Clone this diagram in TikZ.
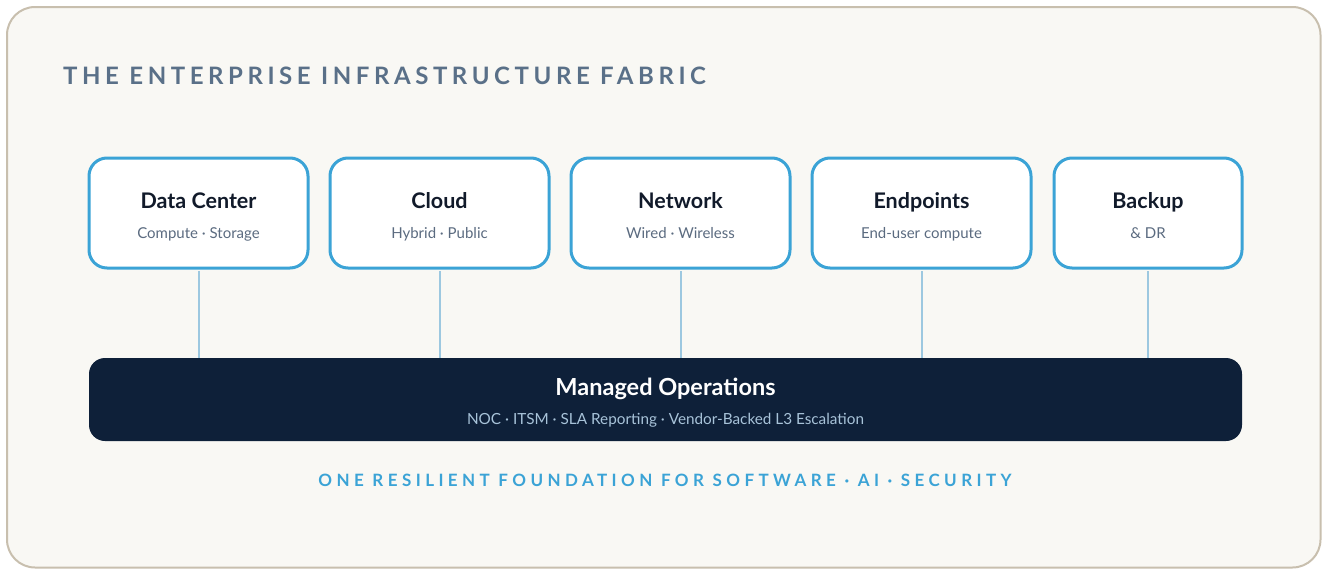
\documentclass[tikz,border=0pt]{standalone}
\usepackage{fontspec}
\setmainfont{Lato}
\newfontfamily\boldf{Lato Bold}
\newfontfamily\titlef[LetterSpace=19]{Lato Bold}
\newfontfamily\tagf[LetterSpace=26]{Lato Bold}
\definecolor{bgc}{HTML}{F9F8F4}
\definecolor{borderc}{HTML}{C8BFAE}
\definecolor{bluec}{HTML}{3BA3D6}
\definecolor{connc}{HTML}{9DC8E0}
\definecolor{navy}{HTML}{0E2039}
\definecolor{titlec}{HTML}{5A7088}
\definecolor{subc}{HTML}{5B6B80}
\definecolor{barsub}{HTML}{A8C3D9}
\definecolor{headc}{HTML}{111A2A}
\begin{document}
\begin{tikzpicture}[x=1pt,y=-1pt,
  layerbox/.style={draw=bluec, line width=3pt, fill=white, rounded corners=18pt, minimum height=110pt, inner sep=0pt},
  boxtitle/.style={font=\boldf\fontsize{21.5}{25}\selectfont, text=headc, inner sep=0pt, anchor=base},
  boxsub/.style={font=\fontsize{15}{18}\selectfont, text=subc, inner sep=0pt, anchor=base},
  conn/.style={draw=connc, line width=2pt},
]
\useasboundingbox (0,0) rectangle (1323,570);
\draw[fill=bgc, draw=borderc, line width=2pt, rounded corners=28pt] (7,7) rectangle (1320.5,567.5);

\node[font=\titlef\fontsize{24}{28}\selectfont, text=titlec, anchor=base west, inner sep=0pt] (title) at (63,84) {THE ENTERPRISE INFRASTRUCTURE FABRIC};

\node[layerbox, minimum width=219pt] (dc) at (198.5,213) {};
\node[layerbox, minimum width=219pt] (cloud) at (439.5,213) {};
\node[layerbox, minimum width=219pt] (net) at (680.5,213) {};
\node[layerbox, minimum width=219pt] (end) at (921.5,213) {};
\node[layerbox, minimum width=188pt] (bak) at (1148,213) {};

\node[boxtitle] (dct) at (198.5,208) {Data Center};
\node[boxsub] (dcs) at (198.5,238) {Compute · Storage};
\node[boxtitle] (clt) at (439.5,208) {Cloud};
\node[boxsub] (cls) at (439.5,238) {Hybrid · Public};
\node[boxtitle] (nett) at (680.5,208) {Network};
\node[boxsub] (nets) at (680.5,238) {Wired · Wireless};
\node[boxtitle] (endt) at (921.5,208) {Endpoints};
\node[boxsub] (ends) at (921.5,238) {End-user compute};
\node[boxtitle] (bakt) at (1148,208) {Backup};
\node[boxsub] (baks) at (1148,238) {\& DR};

\node[fill=navy, rounded corners=16pt, minimum width=1153pt, minimum height=83pt, inner sep=0pt] (ops) at (665.5,399.5) {};
\node[font=\boldf\fontsize{23.5}{28}\selectfont, text=white, inner sep=0pt, anchor=base] (opst) at (665.5,395.5) {Managed Operations};
\node[font=\fontsize{15.3}{18}\selectfont, text=barsub, inner sep=0pt, anchor=base] (opss) at (665.5,424) {NOC · ITSM · SLA Reporting · Vendor-Backed L3 Escalation};

\foreach \n in {dc,cloud,net,end,bak}{
  \draw[conn] ([yshift=-1.5pt]\n.south) -- (\n.south |- ops.north);
}

\node[font=\tagf\fontsize{17}{20}\selectfont, text=bluec, inner sep=0pt, anchor=base] (tag) at (665,486.5) {ONE RESILIENT FOUNDATION FOR SOFTWARE · AI · SECURITY};
\end{tikzpicture}
\end{document}
